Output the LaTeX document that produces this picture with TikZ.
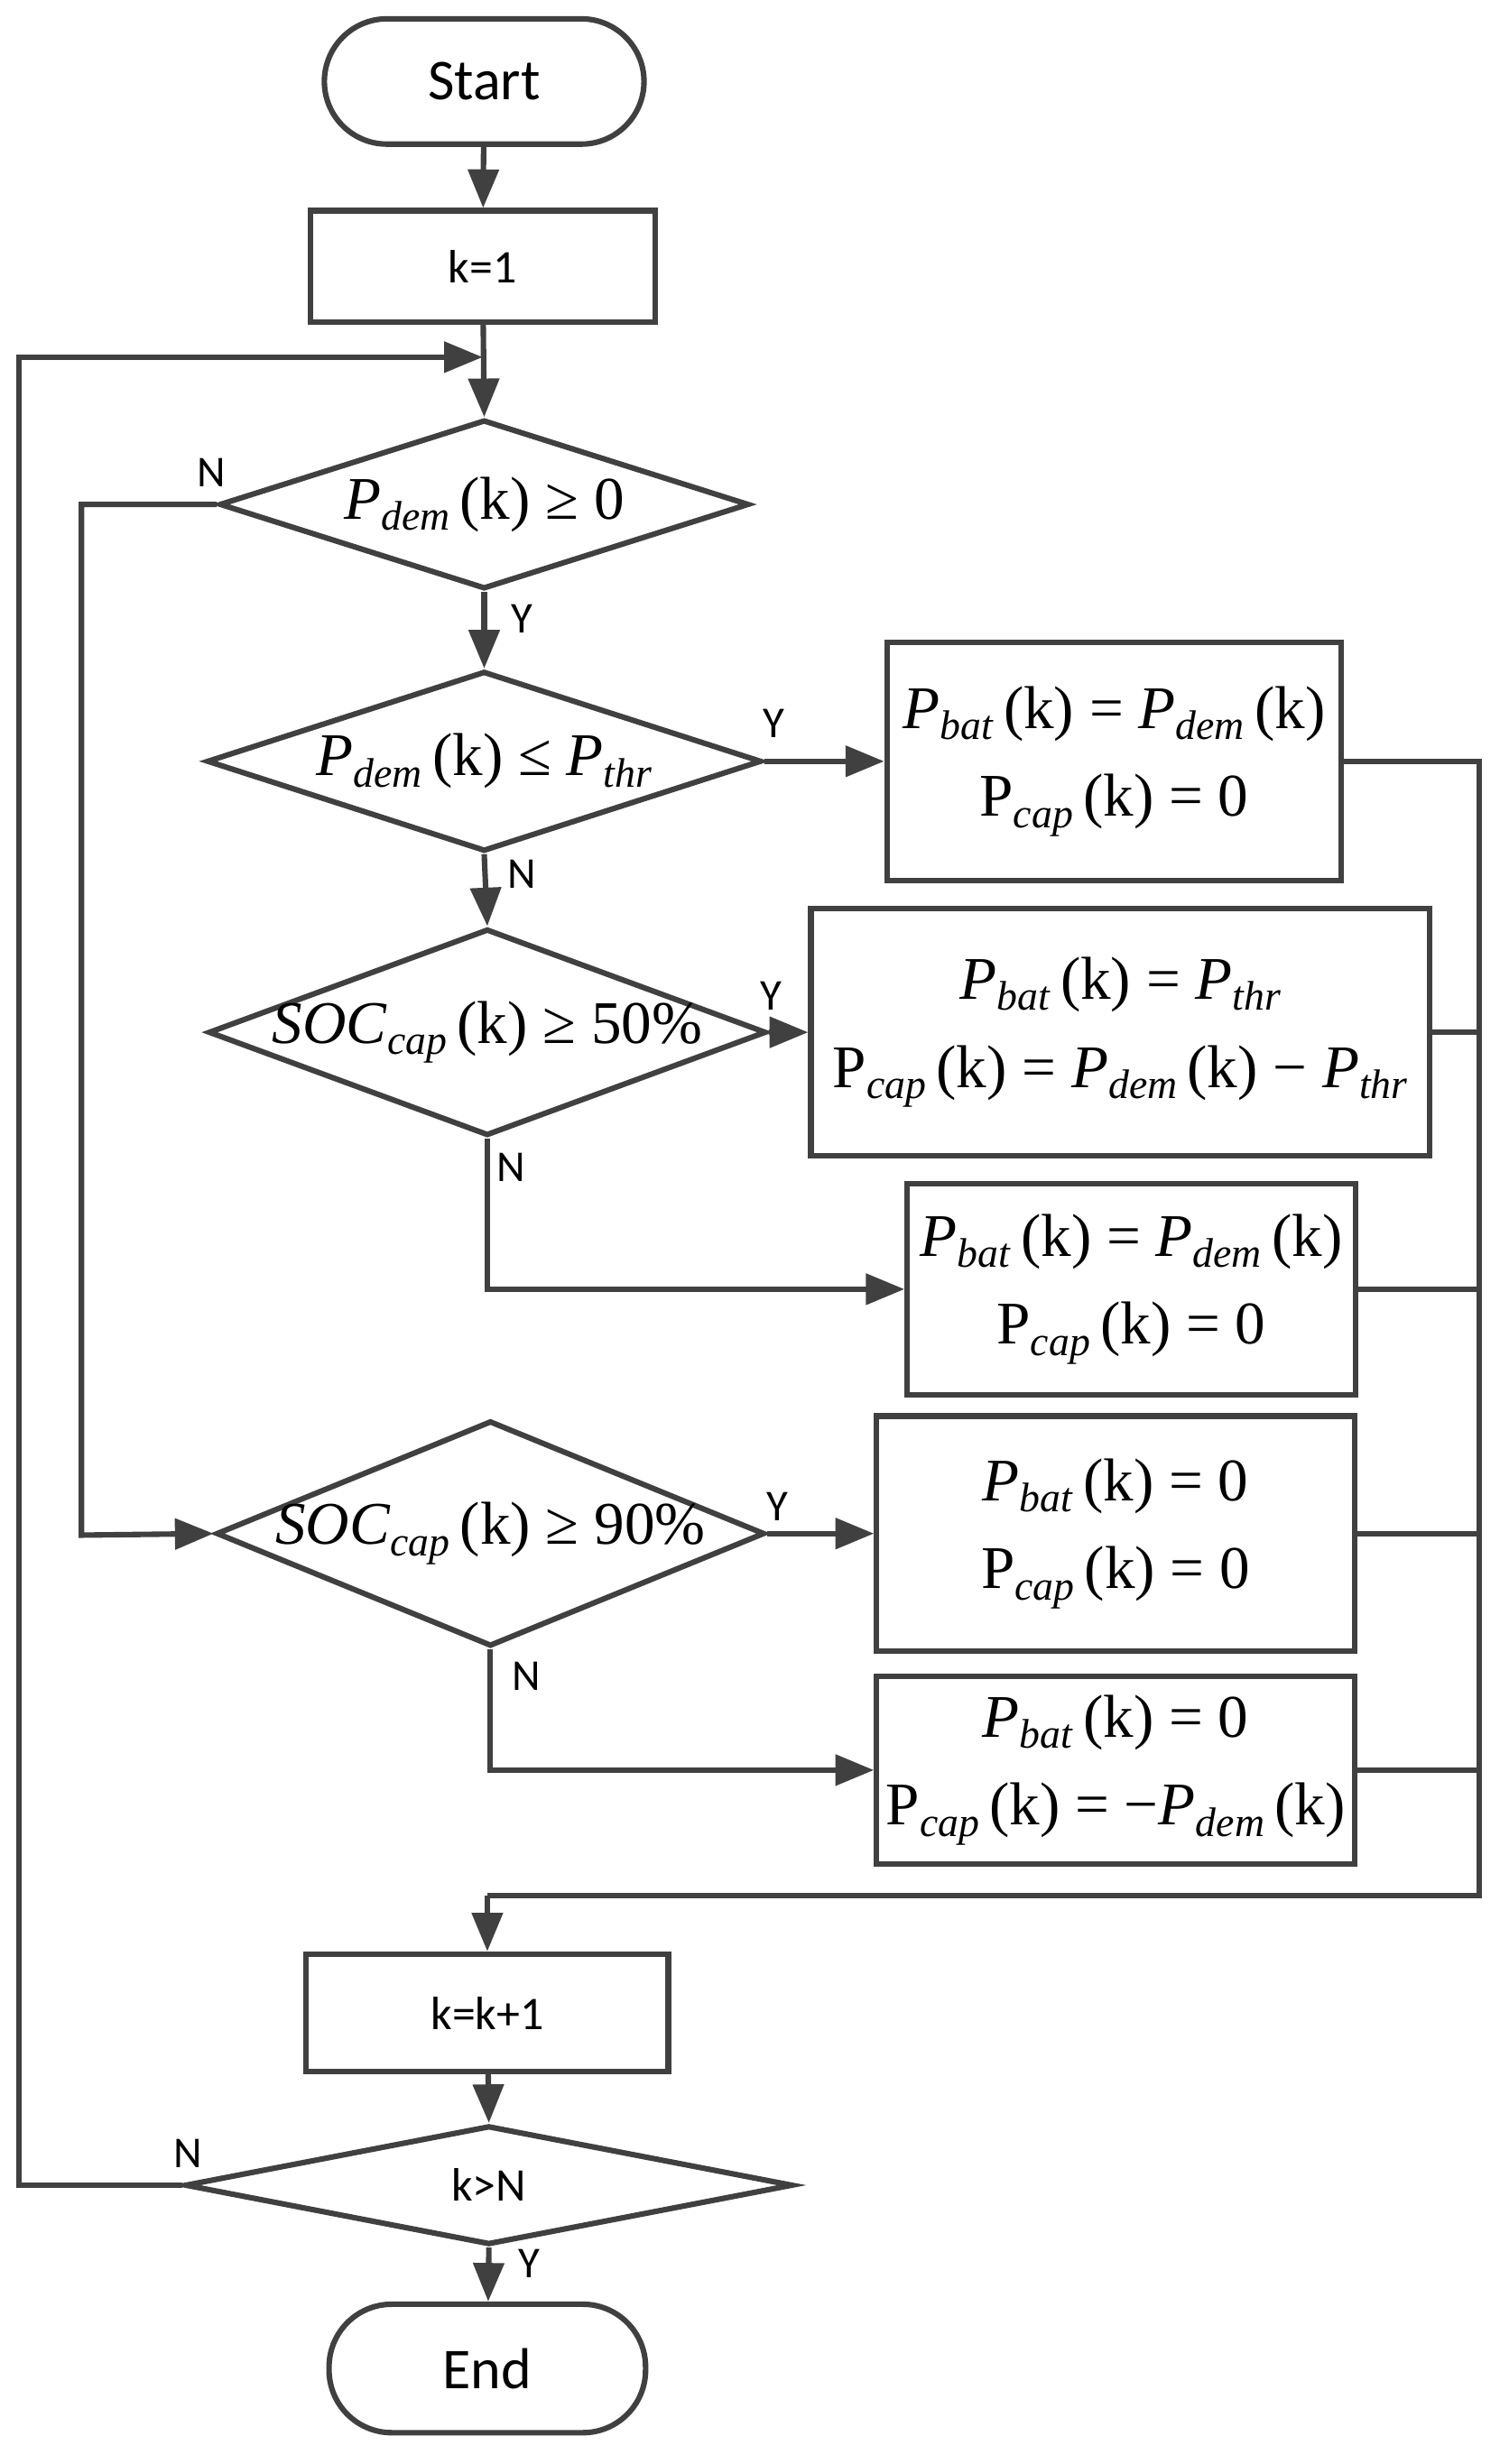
\documentclass[tikz,border=0pt]{standalone}
\usepackage{fontspec}
\setmainfont{Carlito}
\newfontfamily\tnr{Liberation Serif}
\usetikzlibrary{arrows.meta,shapes.geometric}
\definecolor{ln}{HTML}{404040}
\newcommand\V[2]{\textit{#1}\raisebox{-0.4ex}{\fontsize{15}{15}\selectfont\textit{#2}}}
\newcommand\Vr[2]{#1\raisebox{-0.4ex}{\fontsize{15}{15}\selectfont\textit{#2}}}
\begin{document}
\begin{tikzpicture}[x=0.02cm,y=-0.02cm,
  line width=2pt, text=black,
  arr/.style={-{Triangle[length=14pt,width=11pt]}, draw=ln},
  box/.style={draw=ln, rectangle, inner sep=0pt, line width=2pt},
  dia/.style={draw=ln, diamond, inner sep=0pt, line width=2pt},
  mt/.style={font=\tnr\fontsize{22}{32}\selectfont, align=center},
  sm/.style={font=\fontsize{17}{20}\selectfont},
  lab/.style={font=\fontsize{16}{18}\selectfont, inner sep=0pt}]
\useasboundingbox (0,0) rectangle (957,1573);
\node[draw=ln, rounded corners=40*0.02cm, minimum width=204*0.02cm, minimum height=80*0.02cm, font=\fontsize{21}{24}\selectfont] (start) at (309,52) {Start};
\node[box, minimum width=220*0.02cm, minimum height=71*0.02cm, sm] (k1) at (308,170) {k=1};
\coordinate (loop) at (308,228);
\node[dia, minimum width=338*0.02cm, minimum height=108*0.02cm, aspect=3.13] (d1) at (309,322) {};
\node[mt] at (309,322) {\V{P}{dem}\,(k) ≥ 0};
\node[dia, minimum width=354*0.02cm, minimum height=115*0.02cm, aspect=3.08] (d2) at (309,486) {};
\node[mt] at (309,486) {\V{P}{dem}\,(k) ≤ \V{P}{thr}};
\node[dia, minimum width=356*0.02cm, minimum height=132*0.02cm, aspect=2.7] (d3) at (311,659) {};
\node[mt] at (311,659) {\V{SOC}{cap}\,(k) ≥ 50\%};
\node[dia, minimum width=350*0.02cm, minimum height=144*0.02cm, aspect=2.43] (d4) at (313,979) {};
\node[mt] at (313,979) {\V{SOC}{cap}\,(k) ≥ 90\%};
\node[box, minimum width=290*0.02cm, minimum height=152*0.02cm, mt] (b1) at (711,486) {\V{P}{bat}\,(k) = \V{P}{dem}\,(k)\\ \Vr{P}{cap}\,(k) = 0};
\node[box, minimum width=395*0.02cm, minimum height=158*0.02cm, mt] (b2) at (715,659) {\V{P}{bat}\,(k) = \V{P}{thr}\\ \Vr{P}{cap}\,(k) = \V{P}{dem}\,(k) − \V{P}{thr}};
\node[box, minimum width=286*0.02cm, minimum height=135*0.02cm, mt] (b3) at (722,823) {\V{P}{bat}\,(k) = \V{P}{dem}\,(k)\\ \Vr{P}{cap}\,(k) = 0};
\node[box, minimum width=305*0.02cm, minimum height=150*0.02cm, mt] (b4) at (712,979) {\V{P}{bat}\,(k) = 0\\ \Vr{P}{cap}\,(k) = 0};
\node[box, minimum width=305*0.02cm, minimum height=120*0.02cm, mt] (b5) at (712,1130) {\V{P}{bat}\,(k) = 0\\ \Vr{P}{cap}\,(k) = −\V{P}{dem}\,(k)};
\node[box, minimum width=231*0.02cm, minimum height=75*0.02cm, sm] (kk) at (311,1285) {k=k+1};
\node[dia, minimum width=388*0.02cm, minimum height=76*0.02cm, aspect=5.1] (d5) at (312,1395) {};
\node[sm] at (312,1395) {k>N};
\node[draw=ln, rounded corners=40*0.02cm, minimum width=202*0.02cm, minimum height=82*0.02cm, font=\fontsize{21}{24}\selectfont] (end) at (311,1512) {End};
\coordinate (merge) at (311,1210);
\draw[arr] (start) -- (k1);
\draw[arr] (k1) -- (d1.north);
\draw[arr] (d5.west) -- (12,1395) -- (12,228) -- (loop);
\draw[arr] (d1.south) -- (d2.north);
\draw[arr] (d2.south) -- (d3.north);
\draw[arr] (d1.west) -- (52,322) -- (52,980) -- (d4.west);
\draw[arr] (d2.east) -- (b1.west);
\draw[arr] (d3.east) -- (b2.west);
\draw[arr] (d3.south) |- (b3.west);
\draw[arr] (d4.east) -- (b4.west);
\draw[arr] (d4.south) |- (b5.west);
\draw[ln] (b1.east) -- (944,486) -- (944,1210) -- (merge);
\draw[ln] (b2.east) -- (944,659);
\draw[ln] (b3.east) -- (944,823);
\draw[ln] (b4.east) -- (944,979);
\draw[ln] (b5.east) -- (944,1130);
\draw[arr] (merge) -- (kk);
\draw[arr] (kk) -- (d5.north);
\draw[arr] (d5.south) -- (end);
\node[lab] at (135,302) {N};
\node[lab] at (333,395) {Y};
\node[lab] at (494,462) {Y};
\node[lab] at (333,558) {N};
\node[lab] at (492,636) {Y};
\node[lab] at (326,745) {N};
\node[lab] at (496,962) {Y};
\node[lab] at (336,1070) {N};
\node[lab] at (120,1375) {N};
\node[lab] at (338,1445) {Y};
\end{tikzpicture}
\end{document}
